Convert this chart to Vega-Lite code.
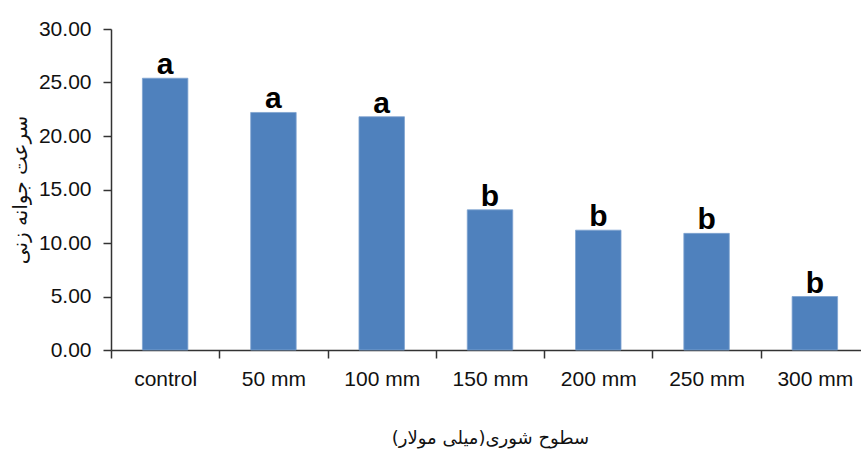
{
  "$schema": "https://vega.github.io/schema/vega-lite/v6.json",
  "width": 758,
  "height": 321,
  "autosize": {"type": "none"},
  "padding": {"left": 111, "top": 29, "right": 0, "bottom": 110},
  "background": "white",
  "config": {
    "view": {"stroke": null},
    "font": "Liberation Sans"
  },
  "data": {
    "values": [
      {"level": "control", "value": 25.4, "group": "a"},
      {"level": "50 mm", "value": 22.2, "group": "a"},
      {"level": "100 mm", "value": 21.8, "group": "a"},
      {"level": "150 mm", "value": 13.1, "group": "b"},
      {"level": "200 mm", "value": 11.2, "group": "b"},
      {"level": "250 mm", "value": 10.9, "group": "b"},
      {"level": "300 mm", "value": 5.0, "group": "b"}
    ]
  },
  "encoding": {
    "x": {
      "field": "level",
      "type": "nominal",
      "sort": null,
      "scale": {"paddingInner": 0, "paddingOuter": 0},
      "axis": {
        "title": "سطوح شوری(میلی مولار)",
        "titleFont": "DejaVu Sans",
        "titleFontSize": 18,
        "titleFontWeight": "normal",
        "titleColor": "#111111",
        "titlePadding": 40,
        "labelAngle": 0,
        "labelFontSize": 21,
        "labelColor": "#111111",
        "labelPadding": 10,
        "tickBand": "extent",
        "tickSize": 8,
        "tickColor": "#333333",
        "domainColor": "#333333",
        "domainWidth": 1.5,
        "tickWidth": 1.5,
        "grid": false
      }
    },
    "y": {
      "field": "value",
      "type": "quantitative",
      "scale": {"domain": [0, 30], "nice": false},
      "axis": {
        "title": "سرعت جوانه زنی",
        "titleFont": "DejaVu Sans",
        "titleFontSize": 20,
        "titleFontWeight": "normal",
        "titleColor": "#111111",
        "titlePadding": 8,
        "values": [0, 5, 10, 15, 20, 25, 30],
        "format": ".2f",
        "labelFontSize": 21,
        "labelColor": "#111111",
        "labelPadding": 12,
        "tickSize": 8,
        "tickColor": "#333333",
        "domainColor": "#333333",
        "domainWidth": 1.5,
        "tickWidth": 1.5,
        "grid": false
      }
    }
  },
  "layer": [
    {
      "mark": {"type": "bar", "color": "#4f81bd", "stroke": "#7fa3d0", "strokeWidth": 0.8, "width": {"band": 0.42}}
    },
    {
      "mark": {"type": "text", "baseline": "alphabetic", "dy": -4, "fontSize": 30, "fontWeight": "bold", "color": "#000000"},
      "encoding": {"text": {"field": "group"}}
    }
  ]
}
